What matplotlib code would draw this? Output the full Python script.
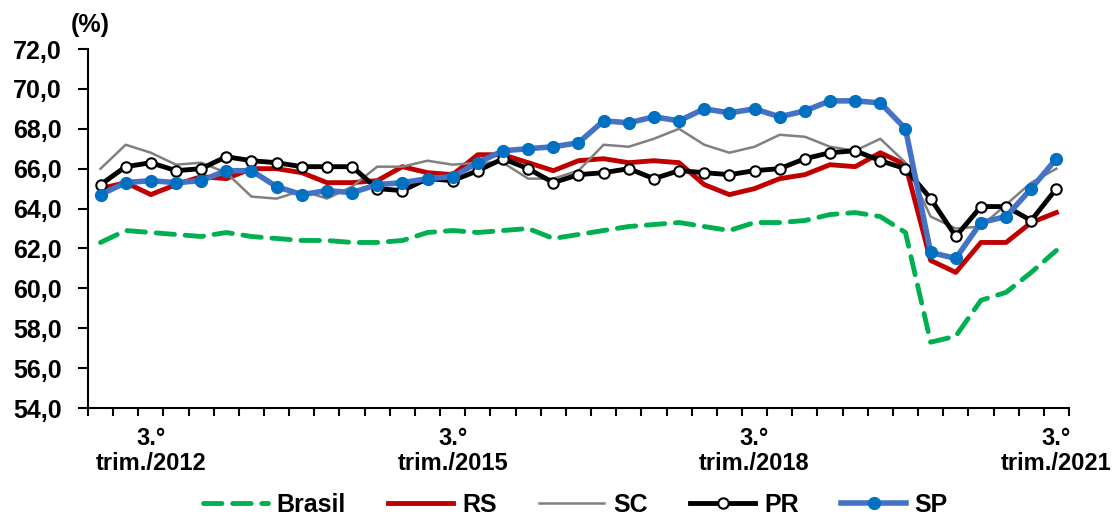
import numpy as np
import matplotlib
matplotlib.use("Agg")
import matplotlib.pyplot as plt

plt.rcParams['font.family'] = ['Liberation Sans', 'DejaVu Sans']
plt.rcParams['font.weight'] = 'bold'

# quarterly series, 1.o trim./2012 .. 3.o trim./2021
brasil = [62.3, 62.9, 62.8, 62.7, 62.6, 62.8, 62.6, 62.5, 62.4, 62.4, 62.3, 62.3, 62.4,
          62.8, 62.9, 62.8, 62.9, 63.0, 62.5, 62.7, 62.9, 63.1, 63.2, 63.3, 63.1, 62.9,
          63.3, 63.3, 63.4, 63.7, 63.8, 63.6, 62.8, 57.3, 57.6, 59.4, 59.8, 60.8, 61.9]
rs = [65.0, 65.3, 64.7, 65.2, 65.6, 65.5, 66.0, 66.0, 65.8, 65.3, 65.3, 65.4, 66.1,
      65.8, 65.7, 66.7, 66.7, 66.3, 65.9, 66.4, 66.5, 66.3, 66.4, 66.3, 65.2, 64.7,
      65.0, 65.5, 65.7, 66.2, 66.1, 66.8, 66.2, 61.4, 60.8, 62.3, 62.3, 63.3, 63.8]
sc = [66.0, 67.2, 66.8, 66.2, 66.3, 65.8, 64.6, 64.5, 64.9, 64.5, 65.1, 66.1, 66.1,
      66.4, 66.2, 66.3, 66.3, 65.5, 65.5, 65.9, 67.2, 67.1, 67.5, 68.0, 67.2, 66.8,
      67.1, 67.7, 67.6, 67.1, 66.9, 67.5, 66.3, 63.6, 63.0, 63.1, 64.2, 65.3, 66.0]
pr = [65.2, 66.1, 66.3, 65.9, 66.0, 66.6, 66.4, 66.3, 66.1, 66.1, 66.1, 65.0, 64.9,
      65.5, 65.4, 65.9, 66.5, 66.0, 65.3, 65.7, 65.8, 66.0, 65.5, 65.9, 65.8, 65.7,
      65.9, 66.0, 66.5, 66.8, 66.9, 66.4, 66.0, 64.5, 62.6, 64.1, 64.1, 63.4, 65.0]
sp = [64.7, 65.3, 65.4, 65.3, 65.4, 65.9, 65.9, 65.1, 64.7, 64.9, 64.8, 65.2, 65.3,
      65.5, 65.6, 66.3, 66.9, 67.0, 67.1, 67.3, 68.4, 68.3, 68.6, 68.4, 69.0, 68.8,
      69.0, 68.6, 68.9, 69.4, 69.4, 69.3, 68.0, 61.8, 61.5, 63.3, 63.6, 65.0, 66.5]

label_idx = [2, 14, 26, 38]
label_txt = ["3.°\ntrim./2012", "3.°\ntrim./2015", "3.°\ntrim./2018", "3.°\ntrim./2021"]

x = np.arange(len(sp))

fig = plt.figure(figsize=(11.12, 5.17), dpi=100)
ax = fig.add_axes([0.0791, 0.2108, 0.8822, 0.6944])

ax.plot(x, brasil, color='#00B050', lw=3.5, dashes=(3.8, 2.2),
        dash_capstyle='round', label='Brasil')
ax.plot(x, rs, color='#C00000', lw=3.5, label='RS')
ax.plot(x, sc, color='#808080', lw=1.8, label='SC')
ax.plot(x, pr, color='black', lw=3.5, marker='o', ms=7.5, mfc='white',
        mec='black', mew=1.5, label='PR')
ax.plot(x, sp, color='#4472C4', lw=4, marker='o', ms=8.5, mfc='#0070C0',
        mec='#0070C0', label='SP')

ax.set_xlim(-0.5, len(sp) - 0.5)
ax.set_ylim(54, 72)
yt = np.arange(54, 72.1, 2)
ax.set_yticks(yt)
ax.set_yticklabels([f"{v:.1f}".replace('.', ',') for v in yt],
                   fontsize=18, fontweight='bold')

ax.set_xticks(np.arange(-0.5, len(sp), 1))
ax.set_xticklabels([])
ax.set_xticks(label_idx, minor=True)
ax.set_xticklabels(label_txt, minor=True, fontsize=17, fontweight='bold', linespacing=1.1)
ax.tick_params(axis='x', which='major', direction='out', length=6, width=1.5)
ax.tick_params(axis='x', which='minor', length=0, pad=14)
ax.tick_params(axis='y', direction='out', length=7, width=1.5, labelsize=18, pad=12)

for s in ['top', 'right']:
    ax.spines[s].set_visible(False)
for s in ['left', 'bottom']:
    ax.spines[s].set_linewidth(1.5)

fig.text(0.081, 0.952, "(%)", fontsize=18, fontweight='bold', ha='center', va='center')

ax.legend(loc='center', bbox_to_anchor=(0.5175, 0.023), bbox_transform=fig.transFigure,
          ncol=5, frameon=False, handlelength=2.6, handletextpad=0.35,
          columnspacing=1.7, prop={'weight': 'bold', 'size': 18})

fig.savefig("out.png", dpi=100)
